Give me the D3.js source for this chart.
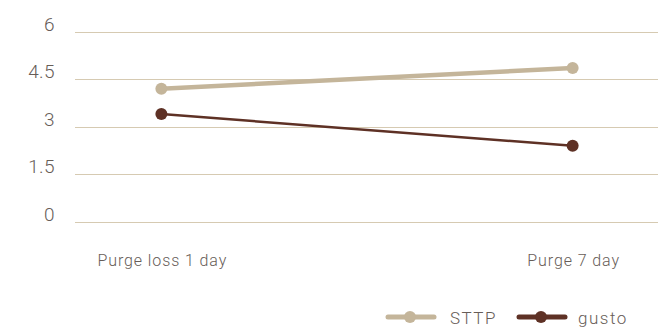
<!DOCTYPE html>
<html>
<head>
<meta charset="utf-8">
<script src="https://cdn.jsdelivr.net/npm/d3@7.9.0/dist/d3.min.js"></script>
<style>
  html, body { margin: 0; padding: 0; background: #fff; }
  svg { display: block; }
</style>
</head>
<body>
<svg id="chart" width="658" height="328"></svg>
<script>
const categories = ['Purge loss 1 day', 'Purge 7 day'];
const sttp = [4.2, 4.85];
const gusto = [3.4, 2.4];
const yTicks = [0, 1.5, 3, 4.5, 6];
const yTickLabels = ['0', '1.5', '3', '4.5', '6'];

const series = [
  { name: 'STTP', values: sttp, color: '#c4b59a', width: 4.5, legendX: 386, textX: 450 },
  { name: 'gusto', values: gusto, color: '#5e3125', width: 2.5, legendX: 517, textX: 578 }
];

const svg = d3.select('#chart');
const width = 658;
const textColor = '#675d58';

const x = d3.scalePoint()
  .domain(categories)
  .range([75, 659])
  .padding(0.21);

const y = d3.scaleLinear()
  .domain([0, 6])
  .range([222, 31.5]);

// gridlines
svg.append('g')
  .selectAll('line')
  .data(yTicks)
  .join('line')
  .attr('x1', 75)
  .attr('x2', width)
  .attr('y1', d => Math.round(y(d)) + 0.5)
  .attr('y2', d => Math.round(y(d)) + 0.5)
  .attr('stroke', '#d6cab2')
  .attr('stroke-width', 1.2);

// y tick labels
svg.append('g')
  .selectAll('text')
  .data(yTicks)
  .join('text')
  .attr('x', 55)
  .attr('y', d => y(d) - 1)
  .attr('text-anchor', 'end')
  .attr('font-family', 'Roboto, sans-serif')
  .attr('font-weight', 300)
  .attr('font-size', 19)
  .attr('letter-spacing', 0.4)
  .attr('fill', textColor)
  .text((d, i) => yTickLabels[i]);

// x category labels
svg.append('g')
  .selectAll('text')
  .data(categories)
  .join('text')
  .attr('x', d => x(d) + 1)
  .attr('y', 266)
  .attr('text-anchor', 'middle')
  .attr('font-family', 'Roboto, sans-serif')
  .attr('font-weight', 300)
  .attr('font-size', 16)
  .attr('letter-spacing', 0.9)
  .attr('fill', textColor)
  .text(d => d);

const line = d3.line()
  .x((d, i) => x(categories[i]))
  .y(d => y(d));

series.forEach(s => {
  const g = svg.append('g');
  g.append('path')
    .datum(s.values)
    .attr('d', line)
    .attr('fill', 'none')
    .attr('stroke', s.color)
    .attr('stroke-width', s.width);
  g.selectAll('circle')
    .data(s.values)
    .join('circle')
    .attr('cx', (d, i) => x(categories[i]))
    .attr('cy', d => y(d))
    .attr('r', 6)
    .attr('fill', s.color);

  // legend
  const lg = svg.append('g').attr('transform', `translate(${s.legendX},317)`);
  lg.append('line')
    .attr('x1', 2).attr('x2', 48)
    .attr('y1', 0).attr('y2', 0)
    .attr('stroke', s.color)
    .attr('stroke-width', 5)
    .attr('stroke-linecap', 'round');
  lg.append('circle')
    .attr('cx', 24).attr('cy', 0).attr('r', 6)
    .attr('fill', s.color);
  svg.append('text')
    .attr('x', s.textX).attr('y', 324)
    .attr('font-family', 'Roboto, sans-serif')
    .attr('font-weight', 300)
    .attr('font-size', 17)
    .attr('letter-spacing', 1.5)
    .attr('fill', textColor)
    .text(s.name);
});
</script>
</body>
</html>
